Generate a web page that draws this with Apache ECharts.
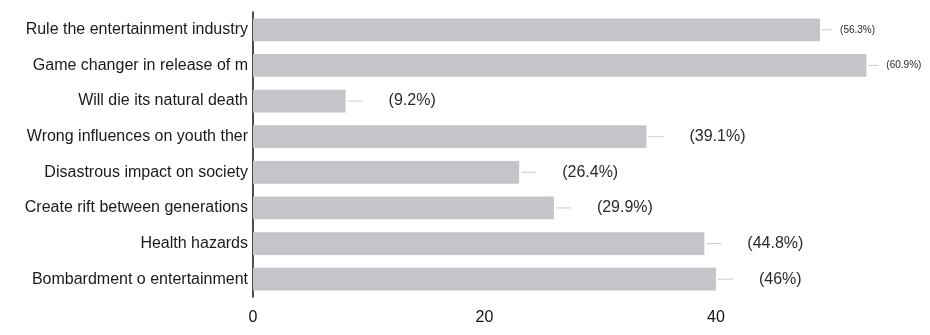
<!DOCTYPE html>
<html>
<head>
<meta charset="utf-8">
<script src="https://cdn.jsdelivr.net/npm/echarts@6/dist/echarts.min.js"></script>
<style>
  html, body { margin: 0; padding: 0; background: #ffffff; }
  #chart { width: 930px; height: 335px; }
</style>
</head>
<body>
<div id="chart"></div>
<script>
// Survey responses (count of respondents) and their share of the 87 answers
const categories = [
  'Rule the entertainment industry',
  'Game changer in release of m',
  'Will die its natural death',
  'Wrong influences on youth ther',
  'Disastrous impact on society',
  'Create rift between generations',
  'Health hazards',
  'Bombardment o entertainment'
];
const counts = [49, 53, 8, 34, 23, 26, 39, 40];
const percents = ['56.3', '60.9', '9.2', '39.1', '26.4', '29.9', '44.8', '46'];
const xTicks = [0, 20, 40];

const FONT = 'Liberation Sans, Arial, sans-serif';

// the two longest bars sit near the right edge, so their labels are set tighter
const compact = (v) => v > 45;

const chart = echarts.init(document.getElementById('chart'), null, { renderer: 'canvas' });

chart.setOption({
  backgroundColor: '#ffffff',
  animation: false,
  grid: { left: 253, right: 0, top: 12, bottom: 38, containLabel: false },
  xAxis: {
    type: 'value',
    min: xTicks[0],
    max: 58.5,
    interval: 20,
    axisLine: { show: false },
    axisTick: { show: false },
    splitLine: { show: false },
    axisLabel: {
      color: '#111',
      fontSize: 16,
      fontFamily: FONT,
      margin: 13,
      showMaxLabel: false
    }
  },
  yAxis: {
    type: 'category',
    data: categories,
    inverse: true,
    axisLine: { show: true, lineStyle: { color: '#111', width: 1.5 } },
    axisTick: { show: false },
    axisLabel: {
      color: '#1a1a1a',
      fontSize: 16,
      fontFamily: FONT,
      margin: 5
    }
  },
  series: [{
    type: 'bar',
    data: counts,
    barWidth: '64%',
    itemStyle: { color: '#c5c5c9' },
    label: {
      show: true,
      position: 'right',
      distance: 2,
      formatter: (p) => compact(p.value)
        ? '{leadS|}{gapS|}{valS|(' + percents[p.dataIndex] + '%)}'
        : '{lead|}{gap|}{val|(' + percents[p.dataIndex] + '%)}',
      rich: {
        lead: { width: 15, height: 1, backgroundColor: '#cccccc' },
        gap: { width: 26, height: 1 },
        val: { color: '#2a2a2a', fontSize: 16, fontFamily: FONT },
        leadS: { width: 10, height: 1, backgroundColor: '#cccccc' },
        gapS: { width: 8, height: 1 },
        valS: { color: '#2a2a2a', fontSize: 10, fontFamily: FONT }
      }
    }
  }]
});
</script>
</body>
</html>
